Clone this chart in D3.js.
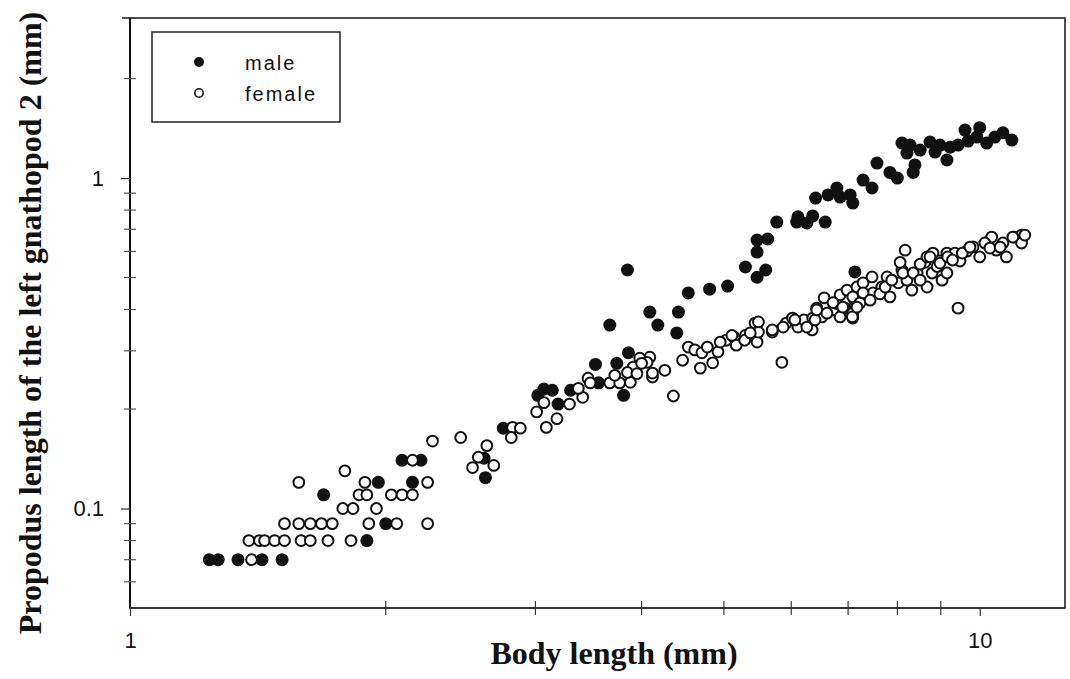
<!DOCTYPE html>
<html>
<head>
<meta charset="utf-8">
<script src="https://cdn.jsdelivr.net/npm/d3@7"></script>
<style>
  html, body { margin: 0; padding: 0; background: #fff; }
  svg { display: block; }
</style>
</head>
<body>
<svg id="chart" width="1070" height="679"></svg>
<script>
// ---- Data (body length mm, propodus length mm) ----
const maleBody = [1.24,1.27,1.34,1.43,1.51,1.90,2.00,1.69,1.96,2.15,2.09,2.20,2.61,2.62,2.75,3.02,3.07,3.14,3.19,3.30,
  3.53,3.56,3.74,3.81,3.67,3.86,3.85,4.09,4.18,4.40,4.42,4.54,4.81,5.05,5.30,5.47,5.60,5.47,5.47,5.63,
  5.77,6.09,6.11,6.26,6.36,6.58,6.41,6.63,6.79,6.85,7.04,7.09,7.29,7.47,7.57,7.84,8.00,8.10,8.28,8.21,
  8.39,8.35,8.51,8.74,8.86,8.98,9.15,9.23,9.43,9.61,9.69,9.92,10.0,10.19,10.42,10.65,10.91,7.13];
const maleProp = [0.07,0.07,0.07,0.07,0.07,0.08,0.09,0.11,0.12,0.12,0.14,0.14,0.142,0.124,0.175,0.220,0.230,0.228,0.207,0.228,
  0.273,0.240,0.275,0.220,0.359,0.296,0.527,0.393,0.359,0.340,0.393,0.449,0.461,0.471,0.538,0.501,0.527,0.597,0.649,0.654,
  0.736,0.736,0.763,0.731,0.768,0.736,0.870,0.889,0.933,0.876,0.889,0.840,0.986,0.933,1.11,1.04,1.00,1.276,1.258,1.19,
  1.096,1.04,1.215,1.285,1.198,1.258,1.134,1.24,1.258,1.397,1.294,1.33,1.42,1.276,1.33,1.37,1.303,0.520];

const femaleBody = [1.39,
  1.38,1.42,1.44,1.48,1.52,1.59,1.63,1.71,1.82,
  1.52,1.58,1.63,1.68,1.73,1.91,2.06,2.24,
  1.78,1.83,1.95,
  1.86,1.90,2.03,2.09,2.15,
  1.58,1.89,2.24,
  1.79,2.15,2.27,
  2.45,2.63,2.53,2.57,2.68,2.82,2.88,2.81,3.07,3.01,3.09,3.18,3.29,3.41,3.37,3.46,3.48,3.67,
  3.77,3.88,3.72,3.91,4.02,4.09,3.85,4.12,4.36,3.98,4.06,4.12,4.00,4.26,4.47,4.54,4.62,4.71,4.69,4.85,
  4.92,5.03,5.14,5.17,5.30,5.44,5.47,5.49,5.70,5.85,5.92,6.02,6.11,6.21,6.35,6.36,6.43,6.52,6.56,6.72,
  6.79,6.85,6.94,6.98,7.09,7.13,7.17,7.09,7.29,7.23,7.47,7.49,7.67,7.78,7.84,8.02,8.10,8.21,8.32,8.44,
  8.62,8.67,8.79,8.91,9.03,9.15,8.17,8.06,8.51,8.67,8.81,8.98,9.15,9.35,9.48,9.66,9.82,10.0,10.19,10.33,
  10.46,10.65,10.75,10.97,11.2,11.2,9.43,6.85,7.09,
  4.78,4.95,5.11,5.29,5.37,5.49,5.70,5.87,6.06,6.26,6.40,6.43,6.61,6.72,6.90,7.08,7.17,7.29,7.43,7.63,
  7.74,7.88,8.12,8.35,8.51,8.74,8.98,9.17,9.29,9.54,9.74,10.14,10.28,10.57,10.94,11.3,3.95];
const femaleProp = [0.07,
  0.08,0.08,0.08,0.08,0.08,0.08,0.08,0.08,0.08,
  0.09,0.09,0.09,0.09,0.09,0.09,0.09,0.09,
  0.10,0.10,0.10,
  0.11,0.11,0.11,0.11,0.11,
  0.12,0.12,0.12,
  0.13,0.14,0.16,
  0.164,0.155,0.133,0.143,0.135,0.176,0.175,0.164,0.209,0.196,0.176,0.187,0.207,0.217,0.231,0.248,0.240,0.240,
  0.240,0.241,0.253,0.268,0.281,0.287,0.258,0.250,0.219,0.285,0.277,0.257,0.275,0.262,0.281,0.308,0.302,0.296,0.266,0.276,
  0.298,0.323,0.330,0.312,0.334,0.364,0.319,0.342,0.342,0.277,0.364,0.377,0.354,0.372,0.347,0.377,0.404,0.380,0.434,0.399,
  0.417,0.443,0.404,0.458,0.390,0.427,0.468,0.437,0.482,0.419,0.502,0.449,0.468,0.502,0.437,0.482,0.527,0.491,0.458,0.516,
  0.556,0.468,0.516,0.540,0.491,0.516,0.605,0.556,0.549,0.577,0.593,0.561,0.593,0.593,0.561,0.601,0.619,0.577,0.636,0.663,
  0.605,0.636,0.577,0.663,0.672,0.636,0.404,0.380,0.377,
  0.308,0.319,0.334,0.323,0.340,0.367,0.347,0.354,0.372,0.354,0.372,0.399,0.390,0.420,0.407,0.380,0.407,0.449,0.427,0.446,
  0.468,0.491,0.516,0.516,0.491,0.577,0.553,0.577,0.565,0.593,0.618,0.636,0.614,0.618,0.663,0.672,0.256];

const xMajorTicks = [1, 10];
const xMinorTicks = [2, 3, 4, 5, 6, 7, 8, 9];
const yMajorTicks = [0.1, 1];
const yMinorTicks = [0.06, 0.07, 0.08, 0.09, 0.2, 0.3, 0.4, 0.5, 0.6, 0.7, 0.8, 0.9, 2];
const seriesNames = ["male", "female"];
const xTitle = "Body length (mm)";
const yTitle = "Propodus length of the left gnathopod 2 (mm)";

(function () {
// ---- Layout ----
const pL = 130, pR = 1065, pT = 18, pB = 608;
const svg = d3.select("#chart");
const x = d3.scaleLog().domain([1, 12.6]).range([pL, pR]);
const y = d3.scaleLog().domain([0.05, 3.05]).range([pB, pT]);

const sans = "'Liberation Sans', Arial, sans-serif";
const serif = "'Liberation Serif', 'Times New Roman', serif";

// Frame
svg.append("rect")
  .attr("x", pL).attr("y", pT)
  .attr("width", pR - pL).attr("height", pB - pT)
  .attr("fill", "none").attr("stroke", "#222").attr("stroke-width", 1.6);
svg.append("line").attr("x1", pL - 8).attr("x2", pL).attr("y1", pT).attr("y2", pT)
  .attr("stroke", "#222").attr("stroke-width", 1.6);
svg.append("line").attr("x1", pL).attr("x2", pL).attr("y1", pT).attr("y2", pB)
  .attr("stroke", "#111").attr("stroke-width", 2);
svg.append("line").attr("x1", pL).attr("x2", pR).attr("y1", pB).attr("y2", pB)
  .attr("stroke", "#333").attr("stroke-width", 2);

// Y axis (major, labelled)
const yAxis = d3.axisLeft(y).tickValues(yMajorTicks).tickFormat(d3.format("")).tickSize(9).tickPadding(17);
const gy = svg.append("g").attr("transform", `translate(${pL},0)`).call(yAxis);
gy.select(".domain").remove();
gy.selectAll("line").attr("stroke", "#333").attr("stroke-width", 1.2);
gy.selectAll("text").attr("font-family", sans).attr("font-size", 22).attr("fill", "#111");

// Y minor ticks (crossing)
svg.append("g").selectAll("line").data(yMinorTicks).join("line")
  .attr("x1", pL - 6).attr("x2", pL + 6)
  .attr("y1", d => y(d)).attr("y2", d => y(d))
  .attr("stroke", "#555").attr("stroke-width", 1.2);

// X axis (major, labelled)
const xAxis = d3.axisBottom(x).tickValues(xMajorTicks).tickFormat(d3.format("")).tickSize(8).tickPadding(16);
const gx = svg.append("g").attr("transform", `translate(0,${pB})`).call(xAxis);
gx.select(".domain").remove();
gx.selectAll("line").attr("stroke", "#333").attr("stroke-width", 1.2);
gx.selectAll("text").attr("font-family", sans).attr("font-size", 22).attr("fill", "#111");

// X minor ticks (crossing)
svg.append("g").selectAll("line").data(xMinorTicks).join("line")
  .attr("x1", d => x(d)).attr("x2", d => x(d))
  .attr("y1", pB - 7).attr("y2", pB + 7)
  .attr("stroke", "#333").attr("stroke-width", 1.2);

// Axis titles
svg.append("text").attr("x", 614).attr("y", 664)
  .attr("text-anchor", "middle").attr("font-family", serif)
  .attr("font-weight", "bold").attr("font-size", 32).attr("fill", "#111")
  .text(xTitle);
svg.append("text")
  .attr("transform", "translate(41,323) rotate(-90)")
  .attr("text-anchor", "middle").attr("font-family", serif)
  .attr("font-weight", "bold").attr("font-size", 32).attr("fill", "#111")
  .text(yTitle);

// Points
const males = maleBody.map((b, i) => ({ b, p: maleProp[i] }));
const females = femaleBody.map((b, i) => ({ b, p: femaleProp[i] }));

svg.append("g").selectAll("circle").data(males).join("circle")
  .attr("cx", d => x(d.b)).attr("cy", d => y(d.p))
  .attr("r", 6.5).attr("fill", "#111");

svg.append("g").selectAll("circle").data(females).join("circle")
  .attr("cx", d => x(d.b)).attr("cy", d => y(d.p))
  .attr("r", 5.4).attr("fill", "#fff").attr("stroke", "#111").attr("stroke-width", 2);

// Legend
const lg = svg.append("g");
lg.append("rect").attr("x", 152).attr("y", 32).attr("width", 188).attr("height", 90)
  .attr("fill", "#fff").attr("stroke", "#222").attr("stroke-width", 1.5);
seriesNames.forEach((name, i) => {
  const cy = 62 + i * 31;
  if (i === 0) {
    lg.append("circle").attr("cx", 199).attr("cy", cy).attr("r", 5).attr("fill", "#111");
  } else {
    lg.append("circle").attr("cx", 199).attr("cy", cy).attr("r", 4.2)
      .attr("fill", "#fff").attr("stroke", "#111").attr("stroke-width", 1.6);
  }
  lg.append("text").attr("x", 245).attr("y", cy + 8)
    .attr("font-family", sans).attr("font-size", 20).attr("letter-spacing", 2)
    .attr("fill", "#111").text(name);
});
})();
</script>
</body>
</html>
